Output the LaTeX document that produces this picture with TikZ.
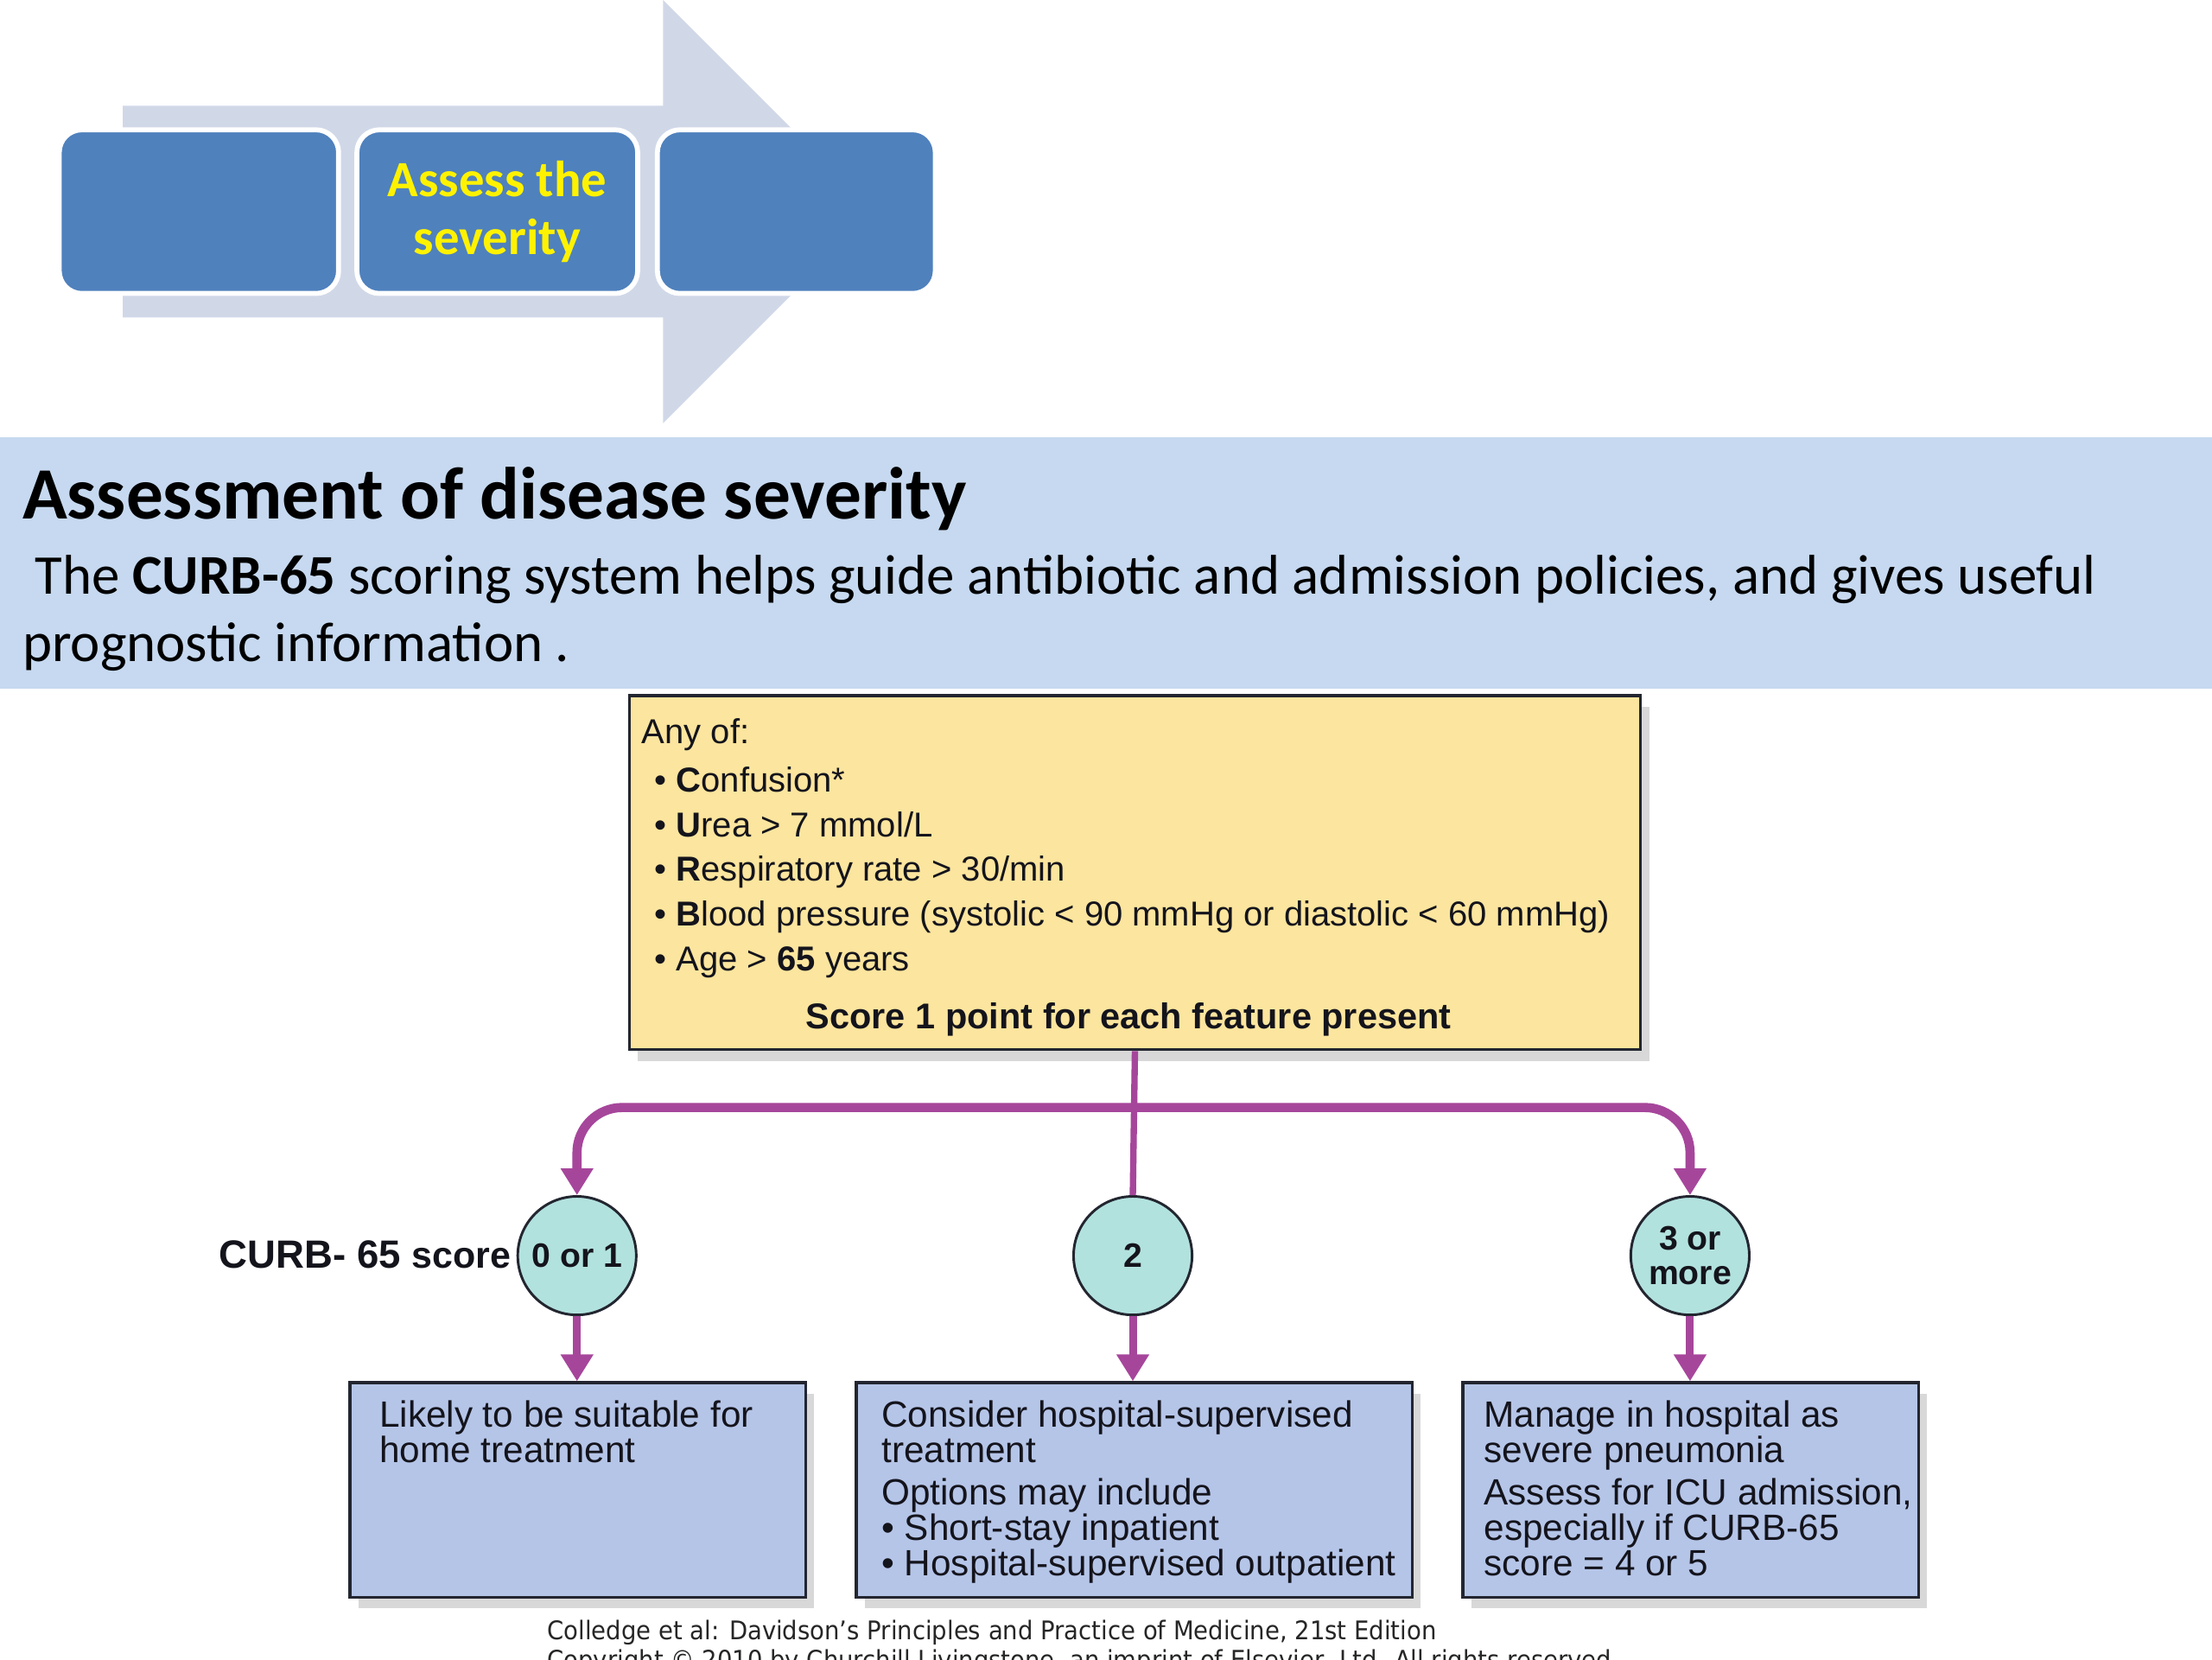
\documentclass[tikz,border=0pt]{standalone}
\usepackage{fontspec}
\setmainfont{Carlito}
\newfontfamily\arialf{Liberation Sans}
\newfontfamily\citef[FakeStretch=0.925]{DejaVu Sans}
\usetikzlibrary{arrows.meta,shadows}
\definecolor{arrowbg}{RGB}{208,216,232}
\definecolor{boxblue}{RGB}{79,129,189}
\definecolor{bandblue}{RGB}{198,217,240}
\definecolor{yelbox}{RGB}{252,229,158}
\definecolor{purp}{RGB}{166,70,155}
\definecolor{tealc}{RGB}{178,226,222}
\definecolor{peri}{RGB}{181,197,232}
\definecolor{darkline}{RGB}{35,38,48}
\definecolor{txtdark}{RGB}{20,20,28}
\tikzset{
  topbox/.style={rectangle, rounded corners=16pt, fill=boxblue, draw=white, line width=3.5pt, minimum height=116pt, inner sep=0pt},
  plain/.style={inner sep=0pt, outer sep=0pt},
  ybox/.style={rectangle, fill=yelbox, draw=darkline, line width=2pt, inner sep=0pt,
    drop shadow={shadow xshift=6pt, shadow yshift=-8pt, fill=black!50, opacity=0.3}},
  rbox/.style={rectangle, fill=peri, draw=darkline, line width=2.2pt, inner sep=0pt,
    minimum height=152pt,
    drop shadow={shadow xshift=6pt, shadow yshift=-8pt, fill=black!50, opacity=0.3}},
  circ/.style={circle, fill=tealc, draw=darkline, line width=1.8pt, minimum size=84pt, inner sep=0pt,
    font=\arialf\bfseries\fontsize{24}{25}\selectfont, align=center, text=txtdark},
  ytext/.style={plain, anchor=base west, font=\arialf\fontsize{24.5}{30}\selectfont, text=txtdark},
  rtext/.style={plain, anchor=north west, align=left, font=\arialf\fontsize{25.9}{25.2}\selectfont, text=txtdark},
  conn/.style={draw=purp, line width=5.5pt},
  tip/.style={-{Triangle[width=22pt,length=19pt]}},
}
\begin{document}
\begin{tikzpicture}[x=1pt,y=-1pt]
\useasboundingbox (0,0) rectangle (1568,1176);
\clip (0,0) rectangle (1568,1176);
\fill[white] (0,0) rectangle (1568,1176);

% top chevron arrow
\fill[arrowbg] (87,75) -- (470,75) -- (470,0) -- (620,150) -- (470,300) -- (470,225) -- (87,225) -- cycle;
\node[topbox, minimum width=198pt] (b1) at (141,150) {};
\node[topbox, minimum width=199pt, text=yellow, align=center,
  font=\bfseries\fontsize{36}{41}\selectfont] (b2) at (352.5,150) {Assess the\\severity};
\node[topbox, minimum width=197pt] (b3) at (564.5,150) {};

% banner
\node[plain, fill=bandblue, anchor=north west, minimum width=1568pt, minimum height=178pt] (band) at (0,310) {};
\node[plain, anchor=base west, font=\bfseries\fontsize{52.3}{62}\selectfont] (title) at (16,368) {Assessment of disease severity};
\node[plain, anchor=base west, font=\fontsize{39.75}{48}\selectfont] (body1) at (25,421) {The \textbf{CURB-65} scoring system helps guide antibiotic and admission policies, and gives useful};
\node[plain, anchor=base west, font=\fontsize{39.75}{48}\selectfont] (body2) at (16,469) {prognostic information .};

% criteria box
\node[ybox, anchor=north west, minimum width=717pt, minimum height=251pt] (crit) at (445,492) {};
\node[ytext] (any) at (455,527) {Any of:};
\node[ytext] (l1) at (464,561.5) {• \textbf{C}onfusion*};
\node[ytext] (l2) at (464,593) {• \textbf{U}rea > 7 mmol/L};
\node[ytext] (l3) at (464,624.5) {• \textbf{R}espiratory rate > 30/min};
\node[ytext] (l4) at (464,656) {• \textbf{B}lood pressure (systolic < 90 mmHg or diastolic < 60 mmHg)};
\node[ytext] (l5) at (464,688) {• Age > \textbf{65} years};
\node[ytext, anchor=base, font=\arialf\bfseries\fontsize{25.4}{30}\selectfont] (score) at (800,729) {Score 1 point for each feature present};

% score circles
\node[circ] (c0) at (409,890) {0 or 1};
\node[circ] (c2) at (803,890) {2};
\node[circ] (c3) at (1198,890) {3 or\\more};
\node[plain, anchor=base east, font=\arialf\bfseries\fontsize{27.9}{30}\selectfont, text=txtdark] (lab) at (362,899) {CURB- 65 {\fontsize{26.3}{30}\selectfont score}};

% connectors
\path (crit.south) ++(0,40) coordinate (bus);
\draw[conn, line width=4.5pt] (crit.south) -- (c2.north);
\draw[conn, line width=6.5pt, rounded corners=32pt, tip] (bus) -| (c0.north);
\draw[conn, line width=6.5pt, rounded corners=32pt, tip] (bus) -| (c3.north);

% result boxes
\node[rbox, anchor=north west, minimum width=323pt] (r0) at (247,979) {};
\node[rbox, anchor=north west, minimum width=394pt] (r1) at (606,979) {};
\node[rbox, anchor=north west, minimum width=323pt] (r2) at (1036,979) {};

\draw[conn, tip] (c0.south) -- (r0.north -| c0);
\draw[conn, tip] (c2.south) -- (r1.north -| c2);
\draw[conn, tip] (c3.south) -- (r2.north -| c3);

\node[rtext] (t0) at (269,992.5) {Likely to be suitable for\\home treatment};
\node[rtext] (t1) at (625,992.5) {Consider hospital-supervised\\treatment\\[5pt]Options may include\\• Short-stay inpatient\\• Hospital-supervised outpatient};
\node[rtext] (t2) at (1052,992.5) {Manage in hospital as\\severe pneumonia\\[5pt]Assess for ICU admission,\\especially if CURB-65\\score = 4 or 5};

% citation
\node[plain, anchor=base west, font=\citef\fontsize{18.2}{20}\selectfont, text=black!85] (cite1) at (388,1162) {Colledge et al: Davidson’s Principles and Practice of Medicine, 21st Edition};
\node[plain, anchor=base west, font=\citef\fontsize{18.2}{20}\selectfont, text=black!85] (cite2) at (388,1183) {Copyright © 2010 by Churchill Livingstone, an imprint of Elsevier, Ltd. All rights reserved.};
\end{tikzpicture}
\end{document}
